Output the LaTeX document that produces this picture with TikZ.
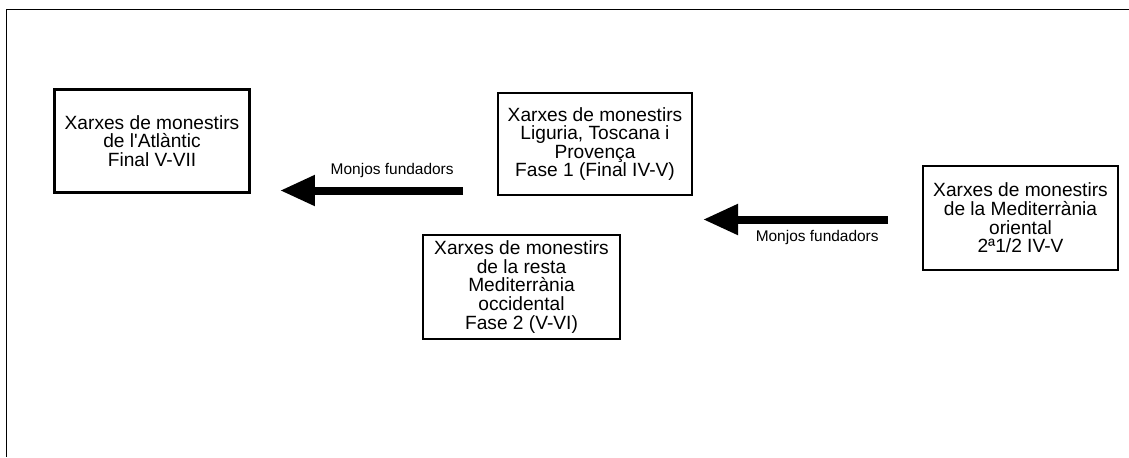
\documentclass[tikz,border=0pt]{standalone}
\usepackage{fontspec}
\setmainfont{Liberation Sans}[Ligatures=TeXOff]
\usetikzlibrary{arrows.meta,positioning,calc}

\begin{document}
\begin{tikzpicture}[x=0.02cm, y=-0.02cm, every node/.style={font=\fontsize{10.9}{10.6}\selectfont}, >={Triangle[length=0.7cm,width=0.58cm]}]
\tikzstyle{xarxa}=[rectangle, draw, line width=1.6pt, align=center, inner sep=0pt, minimum width=3.94cm, minimum height=2.06cm]
\tikzstyle{fletxa}=[->, line width=0.16cm]
\tikzstyle{monjos}=[font=\fontsize{8.8}{10}\selectfont, anchor=base east, inner sep=0pt]
\useasboundingbox (0,0) rectangle (1129,457);
\draw[line width=0.9pt] (1129,9.5) -- (6.5,9.5) -- (6.5,457);
% caixes
\node[xarxa, minimum width=3.9cm] (atl) at (152,141) {Xarxes de monestirs\\de l'Atlàntic\\Final V-VII};
\node[xarxa, minimum width=3.88cm, minimum height=2.04cm] (lig) at (595,144) {Xarxes de monestirs\\Liguria, Toscana i\\Provença\\Fase 1 (Final IV-V)};
\node[xarxa, minimum height=2.08cm] (occ) at (521.5,287) {Xarxes de monestirs\\de la resta\\Mediterrània\\occidental\\Fase 2 (V-VI)};
\node[xarxa, minimum width=3.9cm, minimum height=2.08cm] (ori) at (1020.5,218) {Xarxes de monestirs\\de la Mediterrània\\oriental\\2ª1/2 IV-V};
% fletxes
\coordinate (h1) at (280,190.5); \coordinate (t1) at (463,190.5);
\draw[fletxa] (t1) -- (h1);
\node[monjos] (m1) at ($(t1)+(-9,-16.5)$) {Monjos fundadors};
\coordinate (h2) at (703,219.5); \coordinate (t2) at (888,219.5);
\draw[fletxa] (t2) -- (h2);
\node[monjos] (m2) at ($(t2)+(-9,22)$) {Monjos fundadors};
\end{tikzpicture}
\end{document}
